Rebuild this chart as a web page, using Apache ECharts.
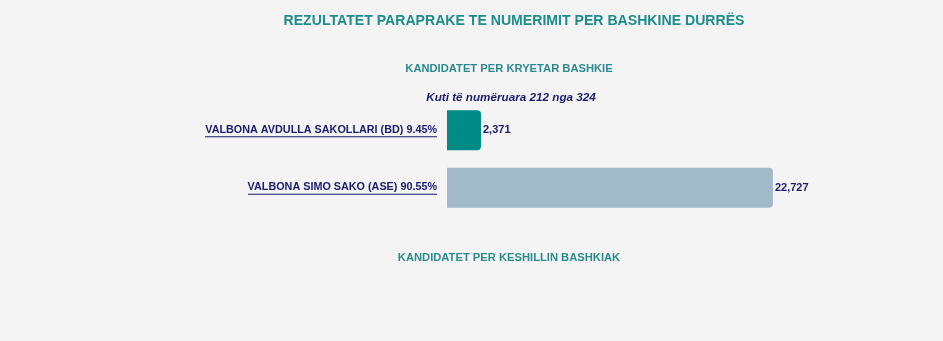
<!DOCTYPE html>
<html>
<head>
<meta charset="utf-8">
<script src="https://cdn.jsdelivr.net/npm/echarts@6/dist/echarts.min.js"></script>
<style>
  html, body { margin: 0; padding: 0; background: #f4f4f4; }
  #chart { width: 943px; height: 341px; }
</style>
</head>
<body>
<div id="chart"></div>
<script>
// kandidatet dhe votat
var candidates = ['VALBONA AVDULLA SAKOLLARI (BD) 9.45%', 'VALBONA SIMO SAKO (ASE) 90.55%'];
var votes = [2371, 22727];
var barColors = ['#008b87', '#a2b9ca'];

var mainTitle = 'REZULTATET PARAPRAKE TE NUMERIMIT PER BASHKINE DURRËS';
var mayorTitle = 'KANDIDATET PER KRYETAR BASHKIE';
var boxesText = 'Kuti të numëruara 212 nga 324';
var councilTitle = 'KANDIDATET PER KESHILLIN BASHKIAK';

var labelFont = 'bold 10.8px "Liberation Sans"';

// gjeresia e tekstit per nenvizimin
function textWidth(t) {
    var c = document.createElement('canvas').getContext('2d');
    c.font = labelFont;
    return Math.round(c.measureText(t).width);
}

var rich = {
    t: { fontFamily: 'Liberation Sans', fontWeight: 'bold', fontSize: 10.8, color: '#1a1a6e', lineHeight: 13, align: 'right' }
};
for (var i = 0; i < candidates.length; i++) {
    rich['u' + i] = { height: 1, lineHeight: 1, width: textWidth(candidates[i]), backgroundColor: '#1a1a6e', align: 'right' };
}

var myChart = echarts.init(document.getElementById('chart'));
var option = {
    backgroundColor: '#f4f4f4',
    title: [
        {
            text: mainTitle, left: 509, top: 9, textAlign: 'center',
            textStyle: { fontFamily: 'Liberation Sans', fontSize: 14.1, fontWeight: 'bold', color: '#1f8c8c' }
        },
        {
            text: mayorTitle, left: 504, top: 58, textAlign: 'center',
            textStyle: { fontFamily: 'Liberation Sans', fontSize: 11.2, fontWeight: 'bold', color: '#2a8b8e' }
        },
        {
            text: boxesText, left: 506, top: 87, textAlign: 'center',
            textStyle: { fontFamily: 'Liberation Sans', fontSize: 11.7, fontWeight: 'bold', fontStyle: 'italic', color: '#1a1a6e' }
        },
        {
            text: councilTitle, left: 504, top: 247, textAlign: 'center',
            textStyle: { fontFamily: 'Liberation Sans', fontSize: 11.2, fontWeight: 'bold', color: '#2a8b8e' }
        }
    ],
    grid: { left: 447, width: 358.5, top: 101.5, height: 115 },
    xAxis: {
        type: 'value', min: 0, max: 25000,
        show: false
    },
    yAxis: {
        type: 'category',
        inverse: true,
        data: candidates,
        axisLine: { show: false },
        axisTick: { show: false },
        axisLabel: {
            margin: 10,
            formatter: function (v, idx) {
                return '{t|' + v + '}\n{u' + idx + '|}';
            },
            rich: rich
        }
    },
    series: [
        {
            type: 'bar',
            barWidth: 40,
            data: votes.map(function (v, i) {
                return { value: v, itemStyle: { color: barColors[i] } };
            }),
            itemStyle: { borderRadius: [0, 4, 4, 0] },
            label: {
                show: true, position: 'right', distance: 2,
                fontFamily: 'Liberation Sans', fontSize: 11, fontWeight: 'bold', color: '#1a1a6e',
                formatter: function (p) { return p.value.toLocaleString('en-US'); }
            },
            silent: true
        }
    ]
};
myChart.setOption(option);
</script>
</body>
</html>
